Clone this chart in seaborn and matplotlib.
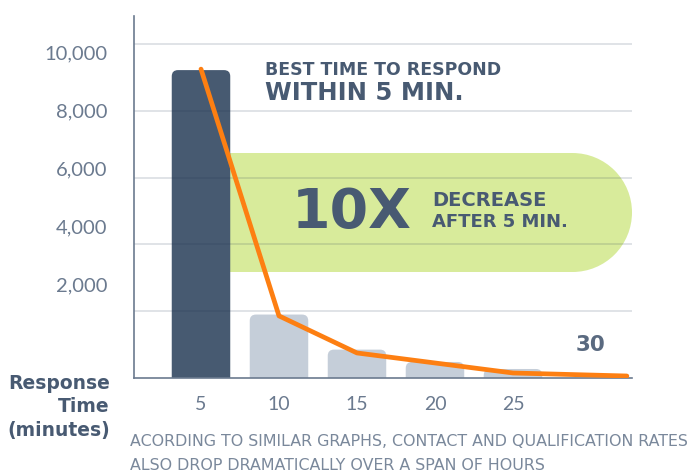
import numpy as np
import matplotlib.pyplot as plt
import seaborn as sns
from matplotlib.patches import FancyBboxPatch, Rectangle, Ellipse

# Bars: response time (minutes) vs. value
minutes = [5, 10, 15, 20, 25]
bar_values = [9220, 1900, 850, 480, 270]

# Orange decay curve (last point runs out past 30 min)
line_minutes = [5, 10, 15, 20, 25, 32.3]
line_values = [9250, 1860, 750, 450, 150, 60]

grid_values = [2000, 4000, 6000, 8000, 10000]
ytick_labels = ["2,000", "4,000", "6,000", "8,000", "10,000"]

DARK = "#475a71"
LIGHT = "#c5ced9"
GREEN = "#d8eb9b"
ORANGE = "#fd7f12"
AXIS = "#6b7a8f"
TEXT = "#485a72"

sns.set_theme(style="white")
plt.rcParams["font.family"] = ["Lato", "DejaVu Sans"]

fig = plt.figure(figsize=(6.88, 4.71), dpi=100)
ax = fig.add_axes([134 / 688, 93 / 471, 498 / 688, 362 / 471])

sns.barplot(x=minutes, y=bar_values, native_scale=True, width=0.75,
            color=LIGHT, ax=ax, zorder=2)

ax.set_xlim(0.705, 32.63)
ax.set_ylim(0, 10840)

# pixel size of one data unit, used to keep round corners circular
px_x = ax.transData.transform((1, 0))[0] - ax.transData.transform((0, 0))[0]
px_y = ax.transData.transform((0, 1))[1] - ax.transData.transform((0, 0))[1]
aspect = px_x / px_y

# swap plain rectangles for ones with rounded top corners
bars = list(ax.patches)
for i, p in enumerate(bars):
    x, w, h = p.get_x(), p.get_width(), p.get_height()
    fc = DARK if i == 0 else LIGHT
    rounded = FancyBboxPatch((x, -400), w, h + 400,
                             boxstyle="round,pad=0,rounding_size=0.4",
                             mutation_aspect=aspect, fc=fc, ec="none", zorder=2)
    ax.add_patch(rounded)
    p.remove()

# green call-out band behind the first bar, semicircular right end
band_lo, band_hi = 3174, 6737
x_right = ax.get_xlim()[1]
ry = (band_hi - band_lo) / 2
rx = ry * px_y / px_x
ax.add_patch(Rectangle((4, band_lo), x_right - rx - 4, band_hi - band_lo,
                       fc=GREEN, ec="none", zorder=1))
ax.add_patch(Ellipse((x_right - rx, band_lo + ry), 2 * rx, 2 * ry,
                     fc=GREEN, ec="none", zorder=1, clip_on=False))

for g in grid_values:
    ax.axhline(g, color="#1d3050", alpha=0.15, lw=1.3, zorder=3)

sns.lineplot(x=line_minutes, y=line_values, color=ORANGE, linewidth=3.4,
             solid_capstyle="round", solid_joinstyle="round", ax=ax, zorder=5)

# tick labels in the reference sit on a tighter scale than the grid lines
label_pos = [0.87 * v + 1060 for v in grid_values]
ax.set_yticks(label_pos, ytick_labels)
ax.set_xticks(minutes, [str(m) for m in minutes])
ax.tick_params(axis="y", length=0, pad=19, labelsize=14.5, labelcolor=AXIS)
ax.tick_params(axis="x", length=0, pad=13, labelsize=14, labelcolor=AXIS)

sns.despine(ax=ax)
for s in ["left", "bottom"]:
    ax.spines[s].set_color(AXIS)
    ax.spines[s].set_linewidth(1.2)
    ax.spines[s].set_zorder(4)
ax.set_xlabel("")
ax.set_ylabel("")

# annotations
hand = ["DejaVu Sans"]
ax.text(9.1, 9222, "BEST TIME TO RESPOND", fontsize=12.5, color=TEXT,
        fontweight="bold", va="center", ha="left", zorder=6, family=hand)
ax.text(9.1, 8533, "WITHIN 5 MIN.", fontsize=17.5, color=TEXT,
        fontweight="bold", va="center", ha="left", zorder=6, family=hand)
ax.text(10.83, 4940, "10X", fontsize=40, color=TEXT,
        fontweight="bold", va="center", ha="left", zorder=6, family=hand)
ax.text(19.8, 5329, "DECREASE", fontsize=14, color=TEXT,
        fontweight="bold", va="center", ha="left", zorder=6, family=hand)
ax.text(19.8, 4671, "AFTER 5 MIN.", fontsize=13, color=TEXT,
        fontweight="bold", va="center", ha="left", zorder=6, family=hand)
ax.text(30, 988, "30", fontsize=15.5, color="#5a6a80",
        fontweight="bold", va="center", ha="center", zorder=6, family=hand)

fig.text(110 / 688, (471 - 407) / 471, "Response\nTime\n(minutes)",
         ha="right", va="center", multialignment="right", fontsize=13.5,
         fontweight="bold", color=TEXT, linespacing=1.3, family=hand)

fig.text(130 / 688, (471 - 442) / 471,
         "ACORDING TO SIMILAR GRAPHS, CONTACT AND QUALIFICATION RATES",
         fontsize=11.4, color="#7a889b", va="center", ha="left", family=hand)
fig.text(130 / 688, (471 - 465) / 471,
         "ALSO DROP DRAMATICALLY OVER A SPAN OF HOURS",
         fontsize=11.4, color="#7a889b", va="center", ha="left", family=hand)

fig.savefig("out.png", dpi=100)
